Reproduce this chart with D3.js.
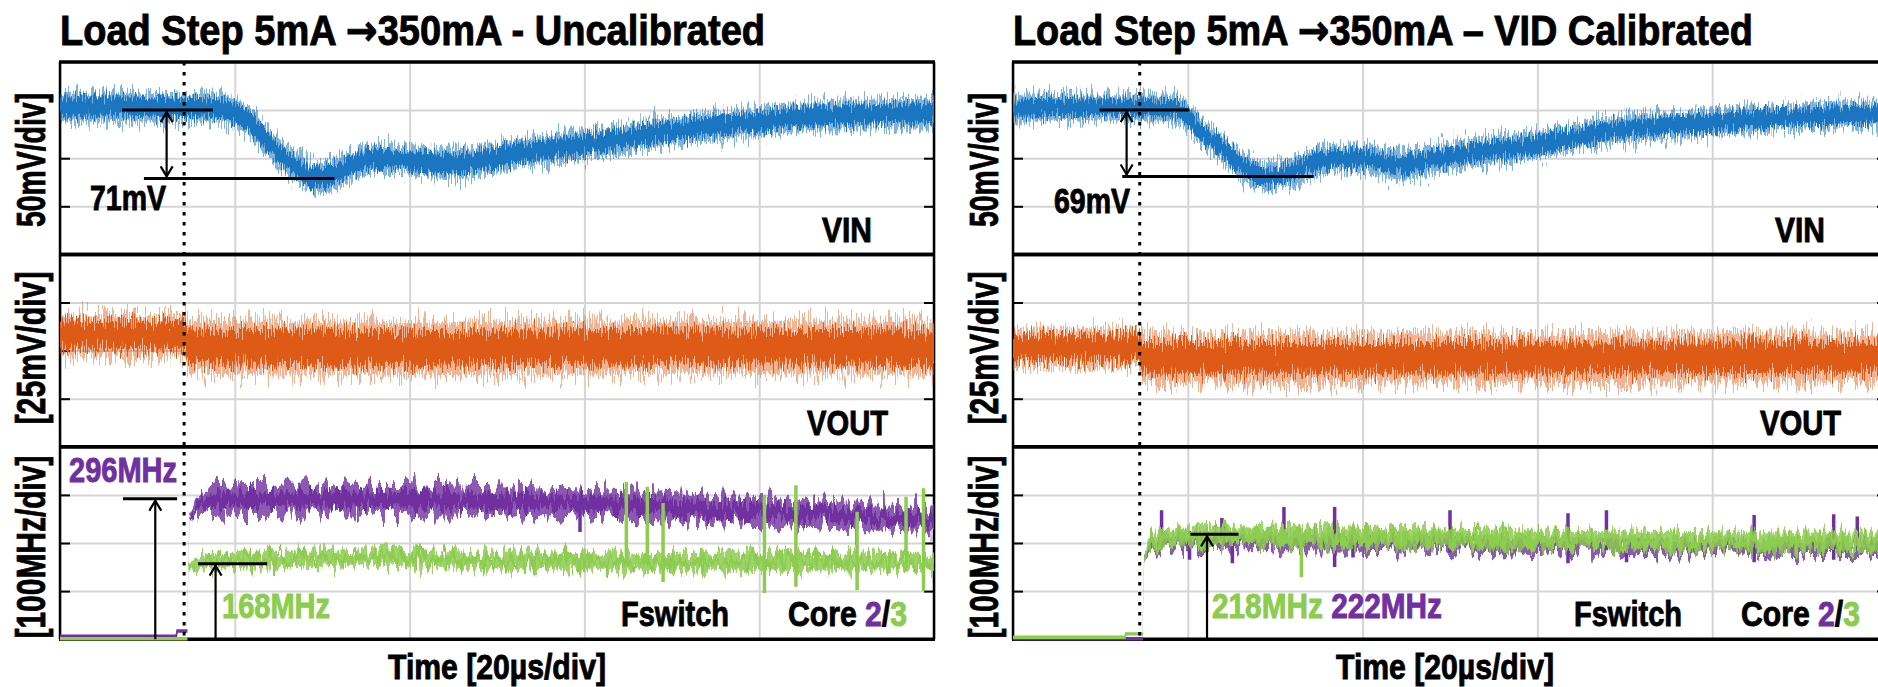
<!DOCTYPE html>
<html>
<head>
<meta charset="utf-8">
<script src="https://cdn.jsdelivr.net/npm/d3@7"></script>
<style>
  body { margin: 0; background: #fff; }
  svg text {
    font-family: "Liberation Sans Narrow", "Arial Narrow", "Liberation Sans", Arial, sans-serif;
    font-weight: bold;
  }
</style>
</head>
<body>
<div id="chart"></div>
<script>
// time axis: 20 us/div, five divisions
const timeTicks = [0, 20, 40, 60, 80, 100];
const vinTicks = [-150, -100, -50, 0, 50];   // mV, 50 mV/div
const voutTicks = [-50, -25, 0, 25, 50];     // mV, 25 mV/div
const freqTicks = [0, 100, 200, 300, 400];   // MHz, 100 MHz/div

// noisy traces, one row per reading: [time us, mean, peak spread, dense spread]
const vinUncal = [
  [0, 3, 15, 10], [10, 3, 15, 10], [17.8, 2, 15, 10], [20.6, -6, 15, 10], [22.5, -20, 15, 10],
  [24.7, -42, 15, 10], [27.4, -62, 16, 10], [29.5, -71, 16, 11], [32, -64, 16, 10], [35.7, -50, 15, 10],
  [41, -53, 15, 10], [45, -56, 16, 10], [51, -47, 15, 10], [60, -36, 15, 10], [69, -23, 15, 10],
  [80, -12, 15, 10], [89, -5, 15, 10], [100, -3, 15, 10]
];
const vinCal = [
  [0, 2, 14, 9], [10, 3, 14, 9], [18.6, 1, 14, 9], [21.7, -24, 14, 9], [24.5, -44, 14, 9],
  [26.5, -60, 15, 9], [28.6, -69, 15, 9], [31.3, -66, 15, 9], [35.4, -52, 15, 9], [39.5, -50, 15, 9],
  [44.2, -58, 15, 9], [49.7, -48, 15, 9], [60, -36, 14, 9], [68, -22, 14, 9], [80, -13, 14, 9],
  [91, -6, 14, 9], [100, -4, 14, 9]
];
const voutUncal = [
  [0, 8, 11, 7], [14.3, 8, 11, 7], [14.6, 2, 14, 9], [40, 1, 14, 9], [70, 2, 14, 9], [100, 1.5, 14, 9]
];
const voutCal = [
  [0, 1.5, 10, 7], [14.5, 1.5, 10, 7], [14.8, -4, 13, 8], [50, -4, 13, 8], [100, -3.5, 13, 8]
];
const core2Uncal = [
  [0, 6, 2, 1.5], [13.3, 6, 2, 1.5], [13.4, 17, 2, 1.5], [14.5, 17, 2, 1.5], [14.8, 240, 4, 2],
  [15.5, 275, 20, 10], [17, 286, 28, 15], [20, 290, 30, 16], [30, 292, 30, 16], [40, 290, 30, 16],
  [50, 287, 29, 15], [60, 282, 29, 15], [70, 275, 29, 15], [80, 266, 29, 15], [90, 258, 28, 14],
  [100, 248, 26, 14]
];
const core3Uncal = [
  [0, 1, 2, 1.5], [14.5, 1, 2, 1.5], [14.7, 150, 3, 2], [15.5, 158, 12, 6], [17, 163, 16, 8],
  [20, 165, 17, 8], [30, 168, 17, 8], [35, 172, 17, 8], [40, 168, 17, 8], [50, 163, 17, 8],
  [60, 162, 17, 8], [70, 160, 17, 8], [80, 161, 17, 8], [90, 160, 17, 8], [100, 161, 17, 8]
];
const core2Cal = [
  [0, 1, 2, 1.5], [14.8, 1, 2, 1.5], [15, 160, 4, 2], [15.6, 195, 14, 7], [17, 203, 17, 8],
  [20, 205, 18, 8], [30, 205, 18, 8], [40, 204, 18, 8], [50, 201, 18, 8], [60, 197, 18, 8],
  [70, 195, 18, 8], [80, 194, 18, 8], [90, 193, 18, 8], [100, 193, 18, 8]
];
const core3Cal = [
  [0, 4, 2, 1.5], [12.8, 4, 2, 1.5], [12.9, 11, 2, 1.5], [14.8, 11, 2, 1.5], [15, 160, 4, 2],
  [15.5, 200, 14, 8], [17, 210, 18, 10], [20, 214, 19, 10], [25, 216, 19, 10], [30, 215, 19, 10],
  [40, 213, 19, 10], [50, 211, 19, 10], [60, 207, 19, 10], [70, 205, 19, 10], [80, 204, 19, 10],
  [90, 203, 19, 10], [100, 203, 19, 10]
];

// isolated glitches: [time us, low MHz, high MHz]
const core2SpikesUncal = [[59.5, 223, 292]];
const core3SpikesUncal = [
  [64.8, 160, 327], [67.2, 160, 317], [69, 119, 283], [80.6, 96, 300],
  [84.2, 109, 320], [91.2, 102, 265], [96.8, 140, 296], [98.8, 100, 314]
];
const core2SpikesCal = [
  [17, 195, 268], [20.2, 165, 225], [23.9, 195, 252], [25.1, 158, 215], [31, 200, 275],
  [36.8, 150, 275], [38.9, 170, 215], [50, 180, 268], [63.5, 158, 262], [67.9, 185, 268],
  [70.2, 160, 210], [84.8, 160, 258], [93.9, 165, 260], [96.6, 185, 255]
];
const core3SpikesCal = [[33, 129, 215]];

// measurement markers
const loadStepTime = [14.2, 14.5];          // dotted line, us
const vinDrop = [71, 69];                   // mV
const freqUncal = [296, 168];               // MHz, core 2 / core 3
const freqCal = [218, 222];                 // MHz, core 3 / core 2

const W = 1878, H = 687;
const plotTop = 62, rowH = 192.4, plotW = 874;
const blue = "#1a76c0", orange = "#de5a17", purple = "#7030a0", green = "#8ccc4e";

const svg = d3.select("#chart").append("svg")
  .attr("width", W).attr("height", H)
  .style("background", "#fff");
const defs = svg.append("defs");

defs.append("marker")
  .attr("id", "head")
  .attr("viewBox", "-12 -7 14 14")
  .attr("refX", 0).attr("refY", 0)
  .attr("markerWidth", 14).attr("markerHeight", 14)
  .attr("markerUnits", "userSpaceOnUse")
  .attr("orient", "auto-start-reverse")
  .append("path")
  .attr("d", "M-10,-6 L0,0 L-10,6")
  .attr("fill", "none").attr("stroke", "#000").attr("stroke-width", 2.2);

// scope-like ragged edges: shift each pixel column up/down (rendering effect only)
function jitter(id, fx, fy, scale, seed) {
  const f = defs.append("filter").attr("id", id)
    .attr("filterUnits", "userSpaceOnUse")
    .attr("x", 0).attr("y", 0).attr("width", W).attr("height", H)
    .attr("color-interpolation-filters", "sRGB");
  f.append("feTurbulence").attr("type", "fractalNoise")
    .attr("baseFrequency", `${fx} ${fy}`).attr("numOctaves", 2)
    .attr("seed", seed).attr("result", "n");
  f.append("feColorMatrix").attr("in", "n").attr("type", "matrix")
    .attr("values", "0 0 0 0 0.5  0 1 0 0 0  0 0 1 0 0  0 0 0 0 1")
    .attr("result", "m");
  f.append("feDisplacementMap").attr("in", "SourceGraphic").attr("in2", "m")
    .attr("scale", scale)
    .attr("xChannelSelector", "R").attr("yChannelSelector", "G");
}
jitter("jVinA", 0.7, 0.05, 34, 3);
jitter("jVinB", 0.9, 0.05, 26, 8);
jitter("jOutA", 0.8, 0.04, 46, 5);
jitter("jOutB", 0.9, 0.04, 36, 11);
jitter("jFrA", 0.22, 0.03, 40, 2);
jitter("jFrB", 0.3, 0.03, 30, 7);

function label(g, parts, x, y, size, len, anchor) {
  const t = g.append("text")
    .attr("x", x).attr("y", y)
    .attr("font-size", size)
    .attr("text-anchor", anchor || "start")
    .attr("textLength", len)
    .attr("lengthAdjust", "spacingAndGlyphs")
    .attr("stroke-width", 0.9);
  parts.forEach(p => t.append("tspan")
    .attr("fill", p[1] || "#000").attr("stroke", p[1] || "#000")
    .attr("font-family", p[2] || null)
    .text(p[0]));
  return t;
}

function band(g, x, y, rows, color, curve, fA, fB, outerOpacity) {
  const area = (k) => d3.area()
    .x(d => x(d[0]))
    .y0(d => y(d[1] - d[k]))
    .y1(d => y(d[1] + d[k]))
    .curve(curve);
  // the flat part before the load step is drawn plain
  const quiet = rows.filter(d => d[2] <= 2);
  const noisy = rows.slice(Math.max(quiet.length - 1, 0));
  if (quiet.length > 1) {
    g.append("path").datum(quiet).attr("d", area(2)).attr("fill", color)
      .attr("stroke", color).attr("stroke-width", 1.5);
  }
  g.append("path").datum(noisy).attr("d", area(2)).attr("fill", color)
    .attr("opacity", outerOpacity).attr("filter", `url(#${fA})`);
  g.append("path").datum(noisy).attr("d", area(3)).attr("fill", color)
    .attr("filter", `url(#${fB})`);
}

function spikes(g, x, y, rows, color) {
  g.selectAll(null).data(rows).enter().append("line")
    .attr("x1", d => x(d[0])).attr("x2", d => x(d[0]))
    .attr("y1", d => y(d[1])).attr("y2", d => y(d[2]))
    .attr("stroke", color).attr("stroke-width", 3.5);
}

function drawPanel(cfg) {
  const x0 = cfg.x0;
  const x = d3.scaleLinear().domain([0, 100]).range([x0, x0 + plotW]);
  const yVin = d3.scaleLinear().domain([-150, 50]).range([plotTop + rowH, plotTop]);
  const yVout = d3.scaleLinear().domain([-50, 50]).range([plotTop + 2 * rowH, plotTop + rowH]);
  const yFreq = d3.scaleLinear().domain([0, 400]).range([plotTop + 3 * rowH, plotTop + 2 * rowH]);
  const rows = [[yVin, vinTicks], [yVout, voutTicks], [yFreq, freqTicks]];

  const g = svg.append("g");

  // grid
  rows.forEach(([y, ticks]) => {
    g.append("g")
      .attr("transform", `translate(0,${y.range()[0]})`)
      .call(d3.axisBottom(x).tickValues(timeTicks).tickSize(-rowH).tickFormat(""))
      .call(a => a.select(".domain").remove())
      .selectAll("line").attr("stroke", "#d5d5d5").attr("stroke-width", 2);
    g.append("g")
      .attr("transform", `translate(${x0},0)`)
      .call(d3.axisLeft(y).tickValues(ticks).tickSize(-plotW).tickFormat(""))
      .call(a => a.select(".domain").remove())
      .selectAll("line").attr("stroke", "#d5d5d5").attr("stroke-width", 2);
  });

  // frame
  rows.forEach(([y]) => {
    [y.range()[0], y.range()[1]].forEach(py => {
      g.append("line").attr("x1", x0 - 1).attr("x2", x0 + plotW + 1)
        .attr("y1", py).attr("y2", py)
        .attr("stroke", "#000").attr("stroke-width", 3.5);
    });
  });
  [x0, x0 + plotW].forEach(px => {
    g.append("line").attr("x1", px).attr("x2", px)
      .attr("y1", plotTop).attr("y2", plotTop + 3 * rowH)
      .attr("stroke", "#000").attr("stroke-width", 2.5);
  });
  rows.forEach(([y, ticks]) => {
    g.append("g").attr("transform", `translate(${x0},0)`)
      .call(d3.axisLeft(y).tickValues(ticks.slice(1, -1)).tickSize(-10).tickFormat(""))
      .call(a => a.select(".domain").remove())
      .selectAll("line").attr("stroke", "#000").attr("stroke-width", 2);
    g.append("g").attr("transform", `translate(${x0 + plotW},0)`)
      .call(d3.axisRight(y).tickValues(ticks.slice(1, -1)).tickSize(-10).tickFormat(""))
      .call(a => a.select(".domain").remove())
      .selectAll("line").attr("stroke", "#000").attr("stroke-width", 2);
  });

  // traces
  const clipId = "clip" + cfg.id;
  defs.append("clipPath").attr("id", clipId).append("rect")
    .attr("x", x0).attr("y", plotTop).attr("width", plotW).attr("height", 3 * rowH + 2);
  const tr = g.append("g").attr("clip-path", `url(#${clipId})`);
  band(tr, x, yVin, cfg.vin, blue, d3.curveMonotoneX, "jVinA", "jVinB", 0.55);
  band(tr, x, yVout, cfg.vout, orange, d3.curveLinear, "jOutA", "jOutB", 0.45);
  band(tr, x, yFreq, cfg.core2, purple, d3.curveLinear, "jFrA", "jFrB", 0.8);
  spikes(tr, x, yFreq, cfg.core2Spikes, purple);
  band(tr, x, yFreq, cfg.core3, green, d3.curveLinear, "jFrB", "jFrA", 0.85);
  spikes(tr, x, yFreq, cfg.core3Spikes, green);

  // load step instant
  g.append("line")
    .attr("x1", x(cfg.step)).attr("x2", x(cfg.step))
    .attr("y1", plotTop).attr("y2", plotTop + 3 * rowH)
    .attr("stroke", "#000").attr("stroke-width", 3).attr("stroke-dasharray", "3.5,6.5");

  // measurements
  const bar = (t0, t1, py) => g.append("line")
    .attr("x1", x(t0)).attr("x2", x(t1)).attr("y1", py).attr("y2", py)
    .attr("stroke", "#000").attr("stroke-width", 3);
  const arrow = (t, pyFrom, pyTo, both) => g.append("line")
    .attr("x1", x(t)).attr("x2", x(t)).attr("y1", pyFrom).attr("y2", pyTo)
    .attr("stroke", "#000").attr("stroke-width", 2.2)
    .attr("marker-end", "url(#head)")
    .attr("marker-start", both ? "url(#head)" : null);
  bar(cfg.vinTop[0], cfg.vinTop[1], yVin(0));
  bar(cfg.vinBot[0], cfg.vinBot[1], yVin(-cfg.drop));
  arrow(cfg.vinArrow, yVin(0) + 2, yVin(-cfg.drop) - 2, true);
  cfg.freqMarks.forEach(m => {
    bar(m[0], m[1], yFreq(m[3]));
    arrow(m[2], yFreq(0), yFreq(m[3]) + 2, false);
  });

  // text
  label(g, [[cfg.title[0]], ["\u2192", null, "DejaVu Sans"], [cfg.title[1]]], x0, 45, 42, cfg.titleLen);
  const yl = (txt, y, len) => g.append("text")
    .attr("transform", `translate(${x0 - 15},${y}) rotate(-90)`)
    .attr("text-anchor", "middle").attr("font-size", 40)
    .attr("stroke", "#000").attr("stroke-width", 0.8)
    .attr("textLength", len).attr("lengthAdjust", "spacingAndGlyphs")
    .text(txt);
  yl("50mV/div]", 160, 134);
  yl("[25mV/div]", 348, 153);
  yl("[100MHz/div]", 547, 183);
  label(g, [[cfg.drop + "mV"]], cfg.dropX, cfg.dropY, 35, 76);
  label(g, [["VIN"]], x0 + 762, 242, 35, 50);
  label(g, [["VOUT"]], x0 + 747, 435, 35, 81);
  label(g, [["Fswitch"]], x0 + 561, 626, 35, 108);
  label(g, [["Core "], ["2", purple], ["/"], ["3", green]], x0 + 728, 626, 35, 119);
  cfg.freqLabels.forEach(l => label(g, l[0], l[1], l[2], 35, l[3]));
  label(g, [["Time [20\u00b5s/div]"]], cfg.timeX, 679, 35, 218, "middle");
}

drawPanel({
  id: "u", x0: 60, step: loadStepTime[0],
  title: ["Load Step 5mA ", "350mA - Uncalibrated"], titleLen: 705,
  vin: vinUncal, vout: voutUncal, core2: core2Uncal, core3: core3Uncal,
  core2Spikes: core2SpikesUncal, core3Spikes: core3SpikesUncal,
  drop: vinDrop[0], vinTop: [7.1, 17.5], vinBot: [9.6, 31.4], vinArrow: 12.2,
  dropX: 90, dropY: 210,
  // [bar start, bar end, arrow time, level]
  freqMarks: [[7.2, 13.4, 10.9, freqUncal[0] - 4], [15.8, 23.7, 17.8, freqUncal[1] - 11]],
  freqLabels: [
    [[[freqUncal[0] + "MHz", purple]], 69, 482, 108],
    [[[freqUncal[1] + "MHz", green]], 222, 618, 108]
  ],
  timeX: 497
});

drawPanel({
  id: "c", x0: 1013, step: loadStepTime[1],
  title: ["Load Step 5mA ", "350mA \u2013 VID Calibrated"], titleLen: 740,
  vin: vinCal, vout: voutCal, core2: core2Cal, core3: core3Cal,
  core2Spikes: core2SpikesCal, core3Spikes: core3SpikesCal,
  drop: vinDrop[1], vinTop: [9.9, 20.2], vinBot: [12.5, 34.4], vinArrow: 13.0,
  dropX: 1054, dropY: 213,
  freqMarks: [[20.3, 25.8, 22.2, freqCal[0]]],
  freqLabels: [
    [[[freqCal[0] + "MHz ", green], [freqCal[1] + "MHz", purple]], 1212, 618, 230]
  ],
  timeX: 1445
});
</script>
</body>
</html>
